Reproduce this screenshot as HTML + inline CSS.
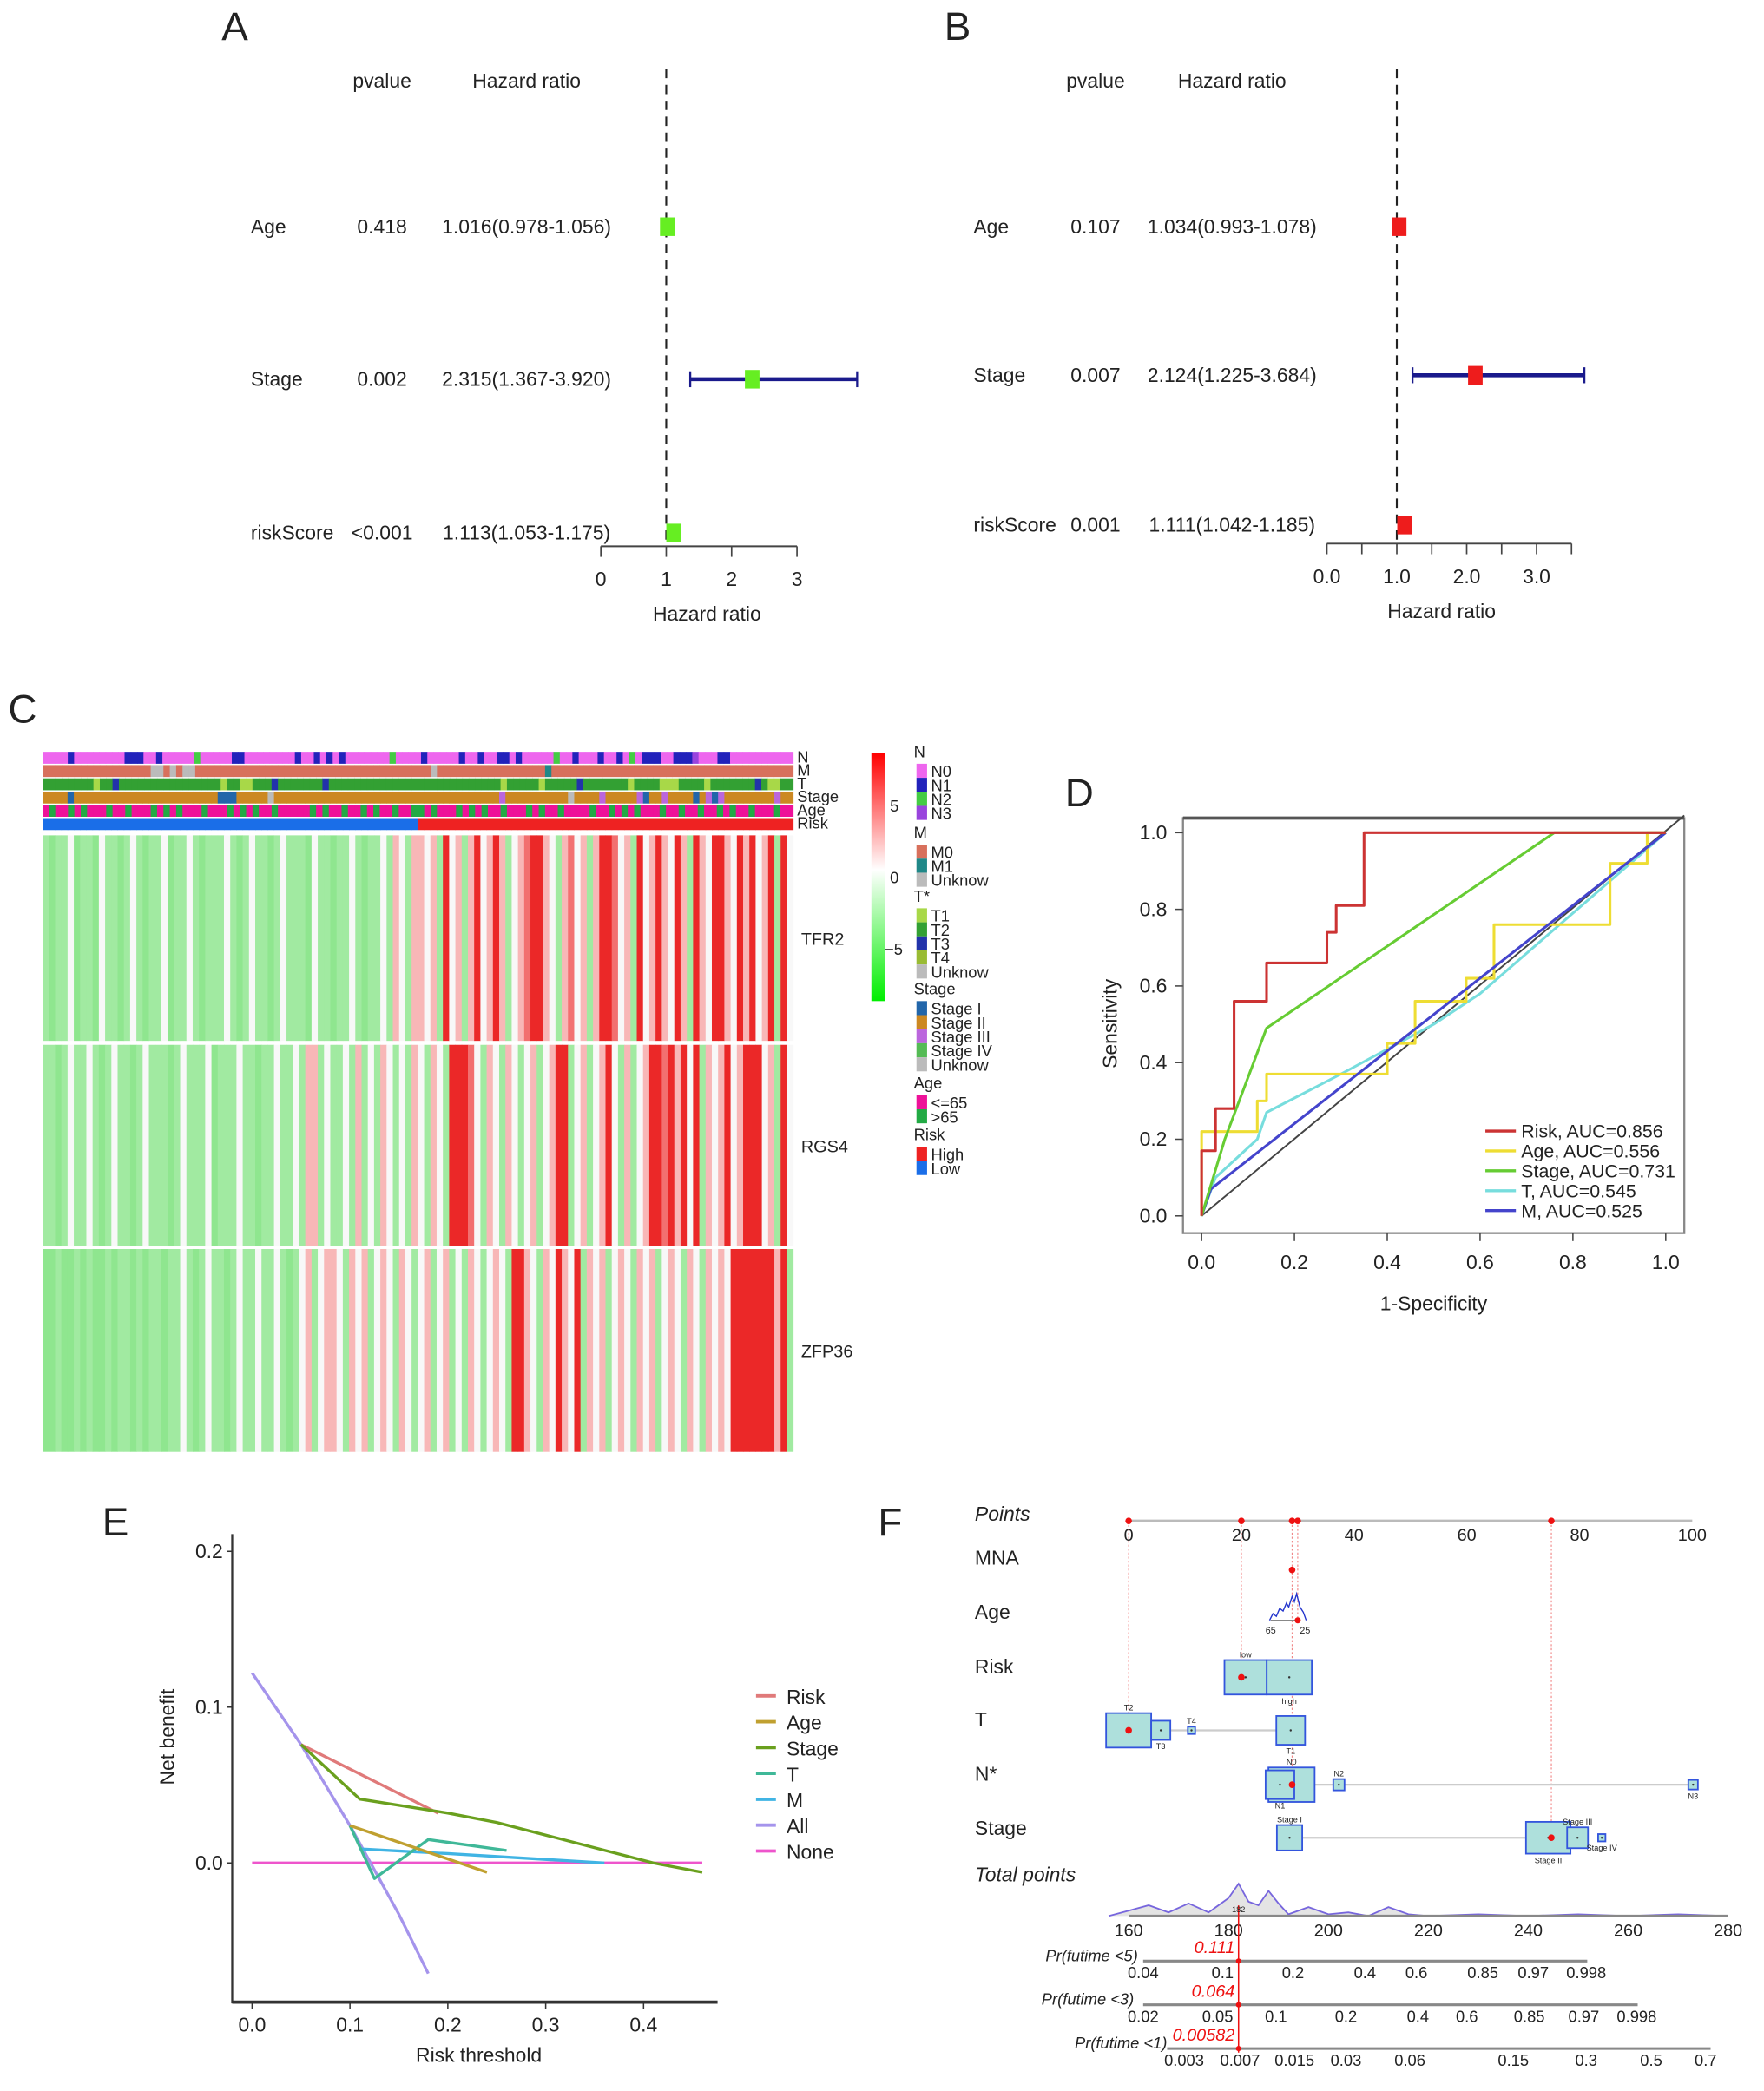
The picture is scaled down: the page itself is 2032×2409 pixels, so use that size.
<!DOCTYPE html>
<html><head><meta charset="utf-8"><style>
html,body{margin:0;padding:0;background:#fff}
svg{display:block}
text{font-family:"Liberation Sans",sans-serif;fill:#222}
</style></head><body>
<svg id="fig" width="2032" height="2409" viewBox="0 0 1330 1577" xmlns="http://www.w3.org/2000/svg">
<g id="pA"></g>
<g id="pB"></g>
<g id="pC"></g>
<g id="pD"></g>
<g id="pE"></g>
<g id="pF"></g>
</svg>
<script>
// ---------- data ----------
const forestVars = ["Age","Stage","riskScore"];
const forestA_p = ["0.418","0.002","<0.001"];
const forestA_hr = [1.016,2.315,1.113];
const forestA_lo = [0.978,1.367,1.053];
const forestA_hi = [1.056,3.920,1.175];
const forestA_txt = ["1.016(0.978-1.056)","2.315(1.367-3.920)","1.113(1.053-1.175)"];
const forestB_p = ["0.107","0.007","0.001"];
const forestB_hr = [1.034,2.124,1.111];
const forestB_lo = [0.993,1.225,1.042];
const forestB_hi = [1.078,3.684,1.185];
const forestB_txt = ["1.034(0.993-1.078)","2.124(1.225-3.684)","1.111(1.042-1.185)"];
const forestA_ticks = [0,1,2,3];
const forestB_ticks = [0,1,2,3];

const geneNames = ["TFR2","RGS4","ZFP36"];
const tfr2 = [-1,-2,-1,-1,0,-2,-1,-1,-2,0,-1,-1,-2,-1,0,-1,-2,-1,-1,0,-2,-1,-1,0,-1,-2,-1,-1,-1,0,-1,-2,-1,0,-1,-1,-2,-1,0,-1,-1,-1,-2,0,-1,-1,-2,-1,-1,0,-1,-2,-1,-1,0,-1,1,0,-1,1,
1,0,1,-1,3,0,1,-1,1,3,0,1,3,1,-1,0,1,2,3,3,1,0,-1,1,2,0,1,-1,1,3,3,2,0,1,-1,3,0,1,3,1,0,3,1,-1,3,1,0,3,3,1,0,3,1,3,0,1,3,-1,3,0];
const rgs4 = [-1,-1,-2,-1,0,-1,-1,0,-1,-2,-1,0,-1,-1,-2,-1,0,-1,-1,-1,-2,-1,0,-1,-1,-1,0,-2,-1,-1,-1,0,-1,-1,-2,-1,-1,0,-1,-1,0,-1,1,1,-1,0,-1,-1,0,-1,1,-1,0,-1,1,0,-1,0,-1,1,
0,-1,1,0,-1,3,3,3,2,0,-1,1,0,-1,1,0,-1,0,1,-1,0,1,3,3,-1,0,1,-1,0,1,3,0,-1,1,-1,0,1,3,3,2,3,1,3,0,3,-1,1,0,1,3,0,1,3,3,3,0,1,-1,3,0];
const zfp36 = [-2,-2,-1,-2,-2,-1,-2,-1,-2,-2,-1,-2,-1,-1,-2,-1,-2,-1,-1,-2,-1,-1,0,-1,-2,-1,0,-1,-1,-2,-1,0,-1,-1,0,-1,-1,0,-1,-2,-1,0,1,-1,0,1,1,0,-1,1,0,1,-1,0,1,0,-1,1,0,-1,
0,1,-1,0,1,-1,0,-1,1,0,-1,0,1,0,-1,3,3,1,0,-1,1,0,3,1,0,3,-1,1,0,1,-1,0,1,0,-1,1,0,1,-1,0,1,0,-1,1,0,-1,1,0,1,0,3,3,3,3,3,3,3,1,3,-1];
const annotN     = "aaaabaaaaaaaabbbaabaaaaacaaaaabbaaaaaaaabaabababaaaaaaacaaaabaaaaabaabaabbabaaaaacaabaaabaabacabbbaabbbdaaabbaaaaaaaaaa";
const annotM     = "aaaaaaaaaaaaaaaaaccacaccaaaaaaaaaaaaaaaaaaaaaaaaaaaaaaaaaaaaacaaaaaaaaaaaaaaaaabaaaaaaaaaaaaaaaaaaaaaaaaaaaaaaaaaaaaaa";
const annotT     = "aaaaaaaacaabaaaaaaaaaaaaaaaacaaccaaabaaaaaaabaaaaaaaaaaaaaaaaaaaaaaaaaaacaaaaacaaaaabaaaaaaacaaaacccaaaacaaaaaaabaccaa";
const annotStage = "bbbbabbbbbbbbbbbbbbbbbbbbbbbaaabbbbbdbbbbbbbbbbbbbbbbbbbbbbbbbbbbbbbbbbbbcbbbbbbbbbbdbbbbcbbbbbcabbcbbbbabcacbbbbbbbbcbb";
const annotAge   = "abaababaaabaabaaabababaaabaaabababaabaaaaababaabaababaabaabbabaaabababaabaaababaabaaaabaabababaaabaabaabaababaabaaabaa";
const annotRisk  = "bbbbbbbbbbbbbbbbbbbbbbbbbbbbbbbbbbbbbbbbbbbbbbbbbbbbbbbbbbbbaaaaaaaaaaaaaaaaaaaaaaaaaaaaaaaaaaaaaaaaaaaaaaaaaaaaaaaaaaaa";

const rocNames = ["Risk, AUC=0.856","Age, AUC=0.556","Stage, AUC=0.731","T, AUC=0.545","M, AUC=0.525"];
const rocRiskX = [0,0,0.03,0.03,0.07,0.07,0.14,0.14,0.27,0.27,0.29,0.29,0.35,0.35,1];
const rocRiskY = [0,0.17,0.17,0.28,0.28,0.56,0.56,0.66,0.66,0.74,0.74,0.81,0.81,1,1];
const rocAgeX = [0,0,0.12,0.12,0.14,0.14,0.40,0.40,0.46,0.46,0.57,0.57,0.63,0.63,0.88,0.88,0.96,0.96,1];
const rocAgeY = [0,0.22,0.22,0.30,0.30,0.37,0.37,0.45,0.45,0.56,0.56,0.62,0.62,0.76,0.76,0.92,0.92,1,1];
const rocStageX = [0,0.05,0.14,0.76,1];
const rocStageY = [0,0.20,0.49,1,1];
const rocTX = [0,0.03,0.12,0.14,0.30,0.50,0.60,1];
const rocTY = [0,0.10,0.20,0.27,0.37,0.50,0.58,1];
const rocMX = [0,0.02,1];
const rocMY = [0,0.07,1];
const rocTicks = [0,0.2,0.4,0.6,0.8,1.0];

const dcaNames = ["Risk","Age","Stage","T","M","All","None"];
const dcaRiskX = [0.05,0.19]; const dcaRiskY = [0.076,0.032];
const dcaAgeX = [0.10,0.24]; const dcaAgeY = [0.024,-0.006];
const dcaStageX = [0.05,0.11,0.20,0.25,0.41,0.46]; const dcaStageY = [0.076,0.041,0.032,0.026,0.0,-0.006];
const dcaTX = [0.10,0.125,0.18,0.26]; const dcaTY = [0.024,-0.010,0.015,0.008];
const dcaMX = [0.11,0.20,0.36]; const dcaMY = [0.009,0.006,0.0];
const dcaAllX = [0,0.05,0.10,0.15,0.18]; const dcaAllY = [0.122,0.076,0.024,-0.033,-0.071];
const dcaNoneX = [0,0.46]; const dcaNoneY = [0,0];
const dcaXTicks = [0,0.1,0.2,0.3,0.4];
const dcaYTicks = [0,0.1,0.2];

const nomoRows = ["MNA","Age","Risk","T","N*","Stage"];
const nomoPtTicks = [0,20,40,60,80,100];
const nomoRedPts = [0,20,29,30,75];
const nomoRiskBoxes = [[17,24.5,"low"],[24.5,32.5,"high"]];
const nomoTBoxes = [[-4,4,"T2"],[4,7.4,"T3"],[10.5,11.8,"T4"],[26.2,31.3,"T1"]];
const nomoNBoxes = [[24.8,33,"N0"],[24.3,29.4,"N1"],[36.3,38.3,"N2"],[99.3,101,"N3"]];
const nomoStageBoxes = [[26.3,30.8,"Stage I"],[70.5,78.4,"Stage II"],[77.8,81.5,"Stage III"],[83.3,84.6,"Stage IV"]];
const totTicks = [160,180,200,220,240,260,280];
const totDensX = [156,160,164,168,172,176,180,182,184,186,188,190,192,196,200,204,208,212,216,220,230,240,250,260,270,280];
const totDensY = [0,3,6,2,7,2,10,18,8,6,14,7,1,5,1,2,0,5,1,0,1,0,1,0,1,0];
const pr5Labels = ["0.04","0.1","0.2","0.4","0.6","0.85","0.97","0.998"];
const pr5Pts = [162.9,178.8,192.9,207.3,217.6,230.9,241.0,251.6];
const pr3Labels = ["0.02","0.05","0.1","0.2","0.4","0.6","0.85","0.97","0.998"];
const pr3Pts = [162.9,177.8,189.5,203.5,217.9,227.7,240.2,251.1,261.7];
const pr1Labels = ["0.003","0.007","0.015","0.03","0.06","0.15","0.3","0.5","0.7"];
const pr1Pts = [171.1,182.3,193.2,203.5,216.3,237.0,251.6,264.6,275.5];
const totalScore = 182;

// ---------- helpers ----------
const NS="http://www.w3.org/2000/svg";
function el(parent,tag,attrs,txt){const e=document.createElementNS(NS,tag);for(const k in attrs)e.setAttribute(k,attrs[k]);if(txt!==undefined)e.textContent=txt;parent.appendChild(e);return e;}
function tx(parent,x,y,s,size,anchor,extra){const t=el(parent,"text",Object.assign({x:x,y:y,"font-size":size||15,"text-anchor":anchor||"start"},extra||{}),s);


return t;}
function poly(parent,xs,ys,fx,fy,color,w,name){const pts=xs.map((v,i)=>fx(v).toFixed(2)+","+fy(ys[i]).toFixed(2)).join(" ");const p=el(parent,"polyline",{points:pts,fill:"none",stroke:color,"stroke-width":w,"stroke-linejoin":"round"});


return p;}

// ---------- forest plots ----------
function forest(g,letter,lx,px,hrx,labx,rows,ps,txts,hr,lo,hi,x0,unit,axisY,ticks,tickFmt,axisEnd,minor,col,dashTop,dashBot,titleX){
  tx(g,lx,30,letter,30,"start");
  tx(g,px,66,"pvalue",15,"middle");
  tx(g,hrx,66,"Hazard ratio",15,"middle");
  const X=v=>x0+v*unit;
  const dl=el(g,"line",{x1:X(1),x2:X(1),y1:dashTop,y2:dashBot,stroke:"#222","stroke-width":1.4,"stroke-dasharray":"7,5"});
  
  
  forestVars.forEach((v,i)=>{
    const y=rows[i];
    tx(g,labx,y+5,v,15);
    tx(g,px,y+5,ps[i],15,"middle");
    tx(g,hrx,y+5,txts[i],15,"middle");
    const ci=el(g,"line",{x1:X(lo[i]),x2:X(hi[i]),y1:y,y2:y,stroke:"#1a1a8c","stroke-width":3});
    
    
    [lo[i],hi[i]].forEach(b=>{el(g,"line",{x1:X(b),x2:X(b),y1:y-6,y2:y+6,stroke:"#1a1a8c","stroke-width":1.5});});
    const b=el(g,"rect",{x:X(hr[i])-5.5,y:y-7,width:11,height:14,fill:col});
    
    
  });
  el(g,"line",{x1:X(0),x2:X(axisEnd),y1:axisY,y2:axisY,stroke:"#444","stroke-width":1.3});
  minor.forEach(t=>el(g,"line",{x1:X(t),x2:X(t),y1:axisY,y2:axisY+8,stroke:"#444","stroke-width":1.1}));
  ticks.forEach(t=>{tx(g,X(t),axisY+30,tickFmt(t),15,"middle");});
  tx(g,titleX,axisY+56,"Hazard ratio",15,"middle");
}
forest(document.getElementById("pA"),"A",167,288,397,189,[171,286,402],forestA_p,forestA_txt,forestA_hr,forestA_lo,forestA_hi,453,49.3,412,forestA_ticks,t=>String(t),3,[0,1,2,3],"#66ee22",52,412,533);
forest(document.getElementById("pB"),"B",712,826,929,734,[171,283,396],forestB_p,forestB_txt,forestB_hr,forestB_lo,forestB_hi,1000.5,52.7,410,forestB_ticks,t=>t.toFixed(1),3.5,[0,0.5,1,1.5,2,2.5,3,3.5],"#ee1c1c",52,412,1087);

// ---------- heatmap ----------
(function(){
  const g=document.getElementById("pC");
  tx(g,6,545,"C",30);
  const X0=32,X1=598;
  const annots=[["N",annotN,{a:"#ee66ee",b:"#2222bb",c:"#44cc44",d:"#9944dd"}],
    ["M",annotM,{a:"#d8705c",b:"#208888",c:"#bbbbbb"}],
    ["T",annotT,{a:"#33a033",b:"#2233aa",c:"#a8d848"}],
    ["Stage",annotStage,{a:"#2266aa",b:"#cc8822",c:"#bb66dd",d:"#bbbbbb"}],
    ["Age",annotAge,{a:"#ee1199",b:"#22aa44"}],
    ["Risk",annotRisk,{a:"#ee2222",b:"#1a6ee8"}]];
  annots.forEach((a,r)=>{
    const s=a[1],w=(X1-X0)/s.length,y=567+r*10;
    for(let i=0;i<s.length;i++){
      const c=el(g,"rect",{x:X0+i*w,y:y,width:w+0.3,height:9,fill:a[2][s[i]]||"#ccc"});
      
      
    }
    tx(g,601,y+8,a[0],12);
  });
  const genes=[tfr2,rgs4,zfp36];const tops=[630,788,942],hs=[155,152,153];
  function col(v){const t=Math.min(Math.abs(v)/3,1);
    if(v<0){const k=0.28+0.2*t;return `rgb(${Math.round(255-(255-120)*k*2)},${Math.round(255-(255-225)*k*2)},${Math.round(255-(255-120)*k*2)})`;}
    if(v>0){const k=t;return `rgb(${Math.round(255-(255-235)*k)},${Math.round(255-(255-40)*k)},${Math.round(255-(255-40)*k)})`;}
    return "#f8f8f8";}
  genes.forEach((arr,gi)=>{
    const w=(X1-X0)/arr.length;
    arr.forEach((v,i)=>{
      const c=el(g,"rect",{x:X0+i*w,y:tops[gi],width:w+0.3,height:hs[gi],fill:col(v)});
      
      
    });
    tx(g,604,tops[gi]+hs[gi]/2+5,geneNames[gi],13);
  });
  const gr=el(g,"defs",{});const lg=el(gr,"linearGradient",{id:"cb",x1:0,y1:0,x2:0,y2:1});
  el(lg,"stop",{offset:"0",["stop-color"]:"#ff0000"});el(lg,"stop",{offset:"0.47",["stop-color"]:"#ffffff"});el(lg,"stop",{offset:"1",["stop-color"]:"#00ee00"});
  const cb=el(g,"rect",{x:657,y:568,width:10,height:187,fill:"url(#cb)"});
  
  
  tx(g,671,612,"5",12);tx(g,671,666,"0",12);tx(g,667,720,"\u22125",12);
  const leg=[["N",567,[["N0","#ee66ee"],["N1","#2222bb"],["N2","#44cc44"],["N3","#9944dd"]]],
    ["M",628,[["M0","#d8705c"],["M1","#208888"],["Unknow","#bbbbbb"]]],
    ["T*",676,[["T1","#a8d848"],["T2","#33a033"],["T3","#2233aa"],["T4","#99bb33"],["Unknow","#bbbbbb"]]],
    ["Stage",746,[["Stage I","#2266aa"],["Stage II","#cc8822"],["Stage III","#bb66dd"],["Stage IV","#55bb55"],["Unknow","#bbbbbb"]]],
    ["Age",817,[["<=65","#ee1199"],[">65","#22aa44"]]],
    ["Risk",856,[["High","#ee2222"],["Low","#1a6ee8"]]]];
  leg.forEach(L=>{
    tx(g,689,L[1]+4,L[0],12);
    L[2].forEach((it,i)=>{const y=L[1]+9+i*10.6;
      const s=el(g,"rect",{x:691,y:y,width:8,height:10.6,fill:it[1]});
      
      
      tx(g,702,y+10,it[0],12);});
  });
})();

// ---------- ROC ----------
(function(){
  const g=document.getElementById("pD");
  tx(g,803,608,"D",30);
  const X=v=>906+v*350,Y=v=>917-v*289;
  el(g,"rect",{x:892,y:617,width:378,height:313,fill:"none",stroke:"#888","stroke-width":1.5});
  el(g,"line",{x1:892,x2:1270,y1:617,y2:617,stroke:"#555","stroke-width":2.5});
  rocTicks.forEach(t=>{
    el(g,"line",{x1:X(t),x2:X(t),y1:930,y2:936,stroke:"#444"});
    tx(g,X(t),957,t.toFixed(1),15,"middle");
    el(g,"line",{x1:886,x2:892,y1:Y(t),y2:Y(t),stroke:"#444"});
    tx(g,880,Y(t)+5,t.toFixed(1),15,"end");
  });
  tx(g,1081,988,"1-Specificity",15,"middle");
  tx(g,842,772,"Sensitivity",15,"middle",{transform:"rotate(-90 842 772)"});
  el(g,"line",{x1:X(0),y1:Y(0),x2:X(1.04),y2:Y(1.045),stroke:"#444","stroke-width":1.3});
  const cols=["#cc3333","#eedd33","#66cc33","#77dddd","#4444cc"];
  const xs=[rocRiskX,rocAgeX,rocStageX,rocTX,rocMX],ys=[rocRiskY,rocAgeY,rocStageY,rocTY,rocMY];
  [3,1,4,2,0].forEach(i=>poly(g,xs[i],ys[i],X,Y,cols[i],2,"roc-line-"+i));
  rocNames.forEach((n,i)=>{const y=853+i*15;
    el(g,"line",{x1:1120,x2:1143,y1:y,y2:y,stroke:cols[i],"stroke-width":2.2});
    tx(g,1147,y+5,n,14);});
})();

// ---------- DCA ----------
(function(){
  const g=document.getElementById("pE");
  tx(g,77,1158,"E",30);
  const X=v=>190+v*738,Y=v=>1405-v*1175;
  el(g,"line",{x1:175,x2:175,y1:1157,y2:1511,stroke:"#333","stroke-width":1.5});
  el(g,"line",{x1:175,x2:541,y1:1510,y2:1510,stroke:"#333","stroke-width":2.5});
  dcaXTicks.forEach(t=>{el(g,"line",{x1:X(t),x2:X(t),y1:1510,y2:1515,stroke:"#333"});tx(g,X(t),1532,t.toFixed(1),15,"middle");});
  dcaYTicks.forEach(t=>{el(g,"line",{x1:171,x2:175,y1:Y(t),y2:Y(t),stroke:"#333"});tx(g,168,Y(t)+5,t.toFixed(1),15,"end");});
  tx(g,361,1555,"Risk threshold",15,"middle");
  tx(g,131,1310,"Net benefit",15,"middle",{transform:"rotate(-90 131 1310)"});
  const cols=["#e07a7a","#c0a030","#6aa01e","#3fb898","#40b4e4","#a594ec","#ee55cc"];
  const xs=[dcaRiskX,dcaAgeX,dcaStageX,dcaTX,dcaMX,dcaAllX,dcaNoneX],ys=[dcaRiskY,dcaAgeY,dcaStageY,dcaTY,dcaMY,dcaAllY,dcaNoneY];
  [6,5,4,3,1,0,2].forEach(i=>poly(g,xs[i],ys[i],X,Y,cols[i],2.2,"dca-line-"+dcaNames[i].toLowerCase()));
  dcaNames.forEach((n,i)=>{const y=1279+i*19.5;
    el(g,"line",{x1:570,x2:585,y1:y,y2:y,stroke:cols[i],"stroke-width":2.5});
    tx(g,593,y+6,n,15);});
})();

// ---------- Nomogram ----------
(function(){
  const g=document.getElementById("pF");
  tx(g,662,1158,"F",30);
  const P=v=>851+v*4.25, T=v=>851+(v-160)*3.767;
  tx(g,735,1147,"Points",15,"start",{"font-style":"italic"});
  const rowY=[1180,1221,1262,1302,1343,1384];
  nomoRows.forEach((r,i)=>tx(g,735,rowY[i],r,15));
  tx(g,735,1419,"Total points",15,"start",{"font-style":"italic"});
  el(g,"line",{x1:P(0),x2:P(100),y1:1147,y2:1147,stroke:"#bbb","stroke-width":2});
  nomoPtTicks.forEach(t=>tx(g,P(t),1162,String(t),13,"middle"));
  [[0,1305],[20,1262],[29,1343],[30,1222],[75,1384]].forEach(d=>el(g,"line",{x1:P(d[0]),x2:P(d[0]),y1:1147,y2:d[1],stroke:"#f08080","stroke-width":0.7,"stroke-dasharray":"1.5,1.5"}));
  nomoRedPts.forEach(p=>el(g,"circle",{cx:P(p),cy:1147,r:2.5,fill:"#ee1111"}));
  el(g,"circle",{cx:P(29),cy:1184,r:2.5,fill:"#ee1111"});
  el(g,"path",{d:`M${P(25)},1222 L${P(25.6)},1217 L${P(26.2)},1219 L${P(26.8)},1213 L${P(27.4)},1215 L${P(28)},1209 L${P(28.4)},1212 L${P(29)},1204 L${P(29.4)},1208 L${P(29.8)},1202 L${P(30.4)},1212 L${P(31)},1216 L${P(31.5)},1222`,fill:"none",stroke:"#2233cc","stroke-width":0.9});
  el(g,"line",{x1:P(25.2),x2:P(30.5),y1:1222,y2:1222,stroke:"#888"});
  el(g,"circle",{cx:P(30),cy:1222,r:2.3,fill:"#ee1111"});
  tx(g,P(25.2),1232,"65",7,"middle");tx(g,P(31.3),1232,"25",7,"middle");
  function boxes(list,y,h,red){
    list.forEach((b,i)=>{
      const w=P(b[1])-P(b[0]);const hh=Math.max(Math.min(h,w),5);
      const r=el(g,"rect",{x:P(b[0]),y:y-hh/2,width:w,height:hh,fill:"#aee0dc",stroke:"#3355dd","stroke-width":1.2});
      
      
      el(g,"circle",{cx:(P(b[0])+P(b[1]))/2,cy:y,r:0.8,fill:"#333"});
      tx(g,(P(b[0])+P(b[1]))/2,(i%2===0?y-hh/2-2:y+hh/2+7),b[2],6,"middle");
    });
    if(red!==null) el(g,"circle",{cx:P(red),cy:y,r:2.5,fill:"#ee1111"});
  }
  boxes(nomoRiskBoxes,1265,26,20);
  el(g,"line",{x1:P(7.4),x2:P(26.2),y1:1305,y2:1305,stroke:"#ccc","stroke-width":1.5});
  boxes(nomoTBoxes,1305,26,0);
  el(g,"line",{x1:P(33),x2:P(99.3),y1:1346,y2:1346,stroke:"#ccc","stroke-width":1.5});
  boxes(nomoNBoxes,1346,26,29);
  el(g,"line",{x1:P(30.8),x2:P(70.5),y1:1386,y2:1386,stroke:"#ccc","stroke-width":1.5});
  boxes(nomoStageBoxes,1386,24,75);
  const dpts=totDensX.map((v,i)=>T(v).toFixed(1)+","+(1445-totDensY[i]*1.35).toFixed(1)).join(" ");
  el(g,"polygon",{points:dpts+` ${T(280)},1445 ${T(156)},1445`,fill:"#e4e4e4",stroke:"none"});
  const dl=el(g,"polyline",{points:dpts,fill:"none",stroke:"#7766dd","stroke-width":1.2});
  
  
  el(g,"line",{x1:T(160),x2:T(280),y1:1445,y2:1445,stroke:"#888","stroke-width":2});
  totTicks.forEach(t=>tx(g,T(t),1460,String(t),13,"middle"));
  el(g,"line",{x1:T(totalScore),x2:T(totalScore),y1:1437,y2:1548,stroke:"#ee1111","stroke-width":1});
  tx(g,T(totalScore),1442,"182",6,"middle",{fill:"#ee1111"});
  function prAxis(label,val,y,labels,pts,start,end,labelEnd){
    tx(g,labelEnd,y,label,12,"end",{"font-style":"italic"});
    tx(g,931,y-6,val,13,"end",{"font-style":"italic",style:"fill:#ee1111"});
    el(g,"line",{x1:T(start),x2:T(end),y1:y,y2:y,stroke:"#888","stroke-width":2});
    el(g,"circle",{cx:T(totalScore),cy:y,r:2,fill:"#ee1111"});
    labels.forEach((l,i)=>tx(g,T(pts[i]),y+13,l,12,"middle"));
  }
  prAxis("Pr(futime <5)","0.111",1479,pr5Labels,pr5Pts,162.9,251.8,858);
  prAxis("Pr(futime <3)","0.064",1512,pr3Labels,pr3Pts,162.9,261.9,855);
  prAxis("Pr(futime <1)","0.00582",1545,pr1Labels,pr1Pts,167.7,276.5,880);
})();
</script>
</body></html>
